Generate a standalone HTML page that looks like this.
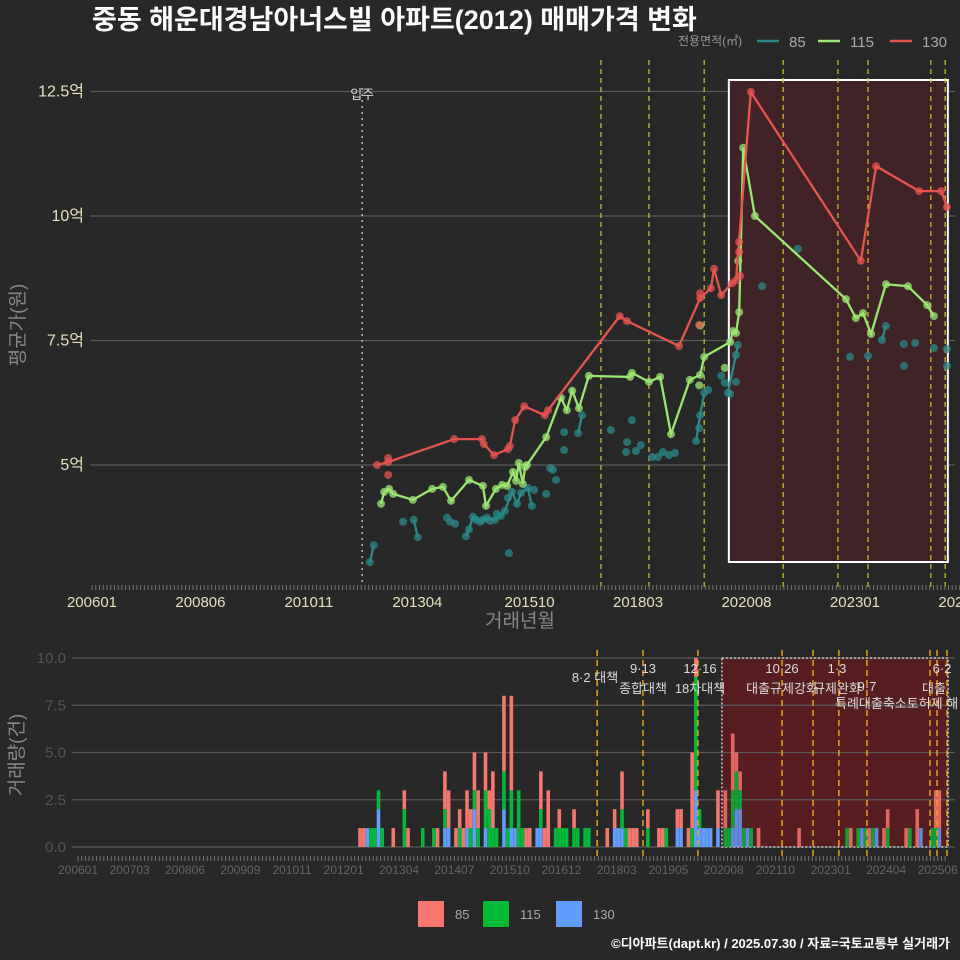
<!DOCTYPE html>
<html><head><meta charset="utf-8">
<style>
html,body{margin:0;padding:0;background:#282828;}
svg{display:block;font-family:"Liberation Sans","Noto Sans CJK KR",sans-serif;}
</style></head>
<body>
<svg id="c" width="960" height="960" viewBox="0 0 960 960"></svg>
<script>
// ---- top panel data (decimal year, price in 억) ----
const redX=[2012.35,2012.60,2014.07,2014.69,2014.73,2014.96,2015.27,2015.31,2015.43,2015.63,2016.09,2016.16,2017.76,2017.92,2019.08,2019.55,2019.79,2019.86,2020.02,2020.26,2020.35,2020.68,2023.13,2023.47,2024.43,2024.92,2025.05];
const redY=[5.00,5.06,5.52,5.52,5.42,5.20,5.32,5.38,5.90,6.18,6.00,6.10,7.99,7.89,7.39,8.35,8.55,8.94,8.41,8.65,8.71,12.49,9.10,11.00,10.50,10.50,10.18];
const redDotX=[2012.60,2012.60,2019.55,2019.53,2020.42,2020.42,2020.44];
const redDotY=[5.14,4.80,8.45,7.81,9.28,9.48,8.80];
const greenX=[2012.44,2012.51,2012.62,2012.71,2013.15,2013.58,2013.82,2014.00,2014.40,2014.71,2014.78,2015.00,2015.14,2015.25,2015.38,2015.45,2015.51,2015.60,2015.65,2015.69,2016.12,2016.45,2016.58,2016.70,2016.85,2017.07,2017.99,2018.03,2018.41,2018.66,2018.90,2019.32,2019.55,2019.64,2020.22,2020.28,2020.35,2020.42,2020.51,2020.77,2022.80,2023.02,2023.18,2023.36,2023.69,2024.18,2024.61,2024.76];
const greenY=[4.22,4.46,4.52,4.42,4.30,4.52,4.56,4.28,4.70,4.58,4.18,4.52,4.60,4.58,4.86,4.68,5.04,4.62,4.96,5.00,5.56,6.35,6.10,6.49,6.14,6.79,6.77,6.85,6.67,6.77,5.62,6.71,6.81,7.17,7.47,7.69,7.65,8.07,11.37,10.00,8.33,7.95,8.05,7.63,8.63,8.59,8.21,7.99];
const greenDotX=[2020.10,2019.53,2019.55,2020.40];
const greenDotY=[6.95,6.60,7.80,9.10];
const tealX=[2012.19,2012.28,2012.93,2013.17,2013.26,2013.91,2013.98,2014.09,2014.33,2014.40,2014.49,2014.56,2014.65,2014.71,2014.80,2014.87,2014.98,2015.02,2015.11,2015.20,2015.27,2015.29,2015.36,2015.47,2015.56,2015.71,2015.80,2015.85,2016.12,2016.21,2016.27,2016.34,2016.52,2016.52,2016.83,2016.92,2017.56,2017.90,2017.92,2018.03,2018.12,2018.23,2018.48,2018.61,2018.72,2018.86,2018.99,2019.46,2019.53,2019.55,2019.64,2019.73,2020.02,2020.10,2020.17,2020.22,2020.35,2020.35,2020.39,2020.93,2021.73,2022.89,2023.29,2023.60,2023.69,2024.09,2024.34,2024.09,2024.76,2025.05,2025.05];
const tealY=[3.05,3.39,3.86,3.90,3.55,3.94,3.86,3.82,3.57,3.71,3.96,3.90,3.86,3.90,3.94,3.88,3.90,4.02,3.98,4.08,4.34,3.23,4.46,4.22,4.44,4.54,4.18,4.50,4.42,4.94,4.90,4.70,5.66,5.30,5.64,6.00,5.70,5.26,5.46,5.90,5.28,5.40,5.16,5.16,5.26,5.20,5.24,5.48,5.74,6.00,6.45,6.51,6.79,6.65,6.45,6.43,6.67,7.21,7.41,8.59,9.34,7.17,7.19,7.51,7.79,7.43,7.45,6.99,7.35,7.33,6.99];
const tealLineX=[2012.19,2012.28,null,2013.17,2013.26,null,2014.33,2014.40,2014.49,2014.65,2014.80,2014.98,2015.11,2015.20,2015.36,2015.47,2015.56,2015.71,2015.80,null,2016.21,2016.27,null,2016.83,2016.92,null,2019.46,2019.55,2019.64,null,2020.17,2020.35,2020.39,null,2023.60,2023.69];
const tealLineY=[3.05,3.39,null,3.90,3.55,null,3.57,3.71,3.96,3.86,3.94,3.90,3.98,4.08,4.46,4.22,4.44,4.54,4.18,null,4.94,4.90,null,5.64,6.00,null,5.48,6.00,6.45,null,6.45,7.21,7.41,null,7.51,7.79];
const topEvents=[2017.34,2018.41,2019.64,2021.40,2022.62,2023.29,2024.69,2025.01];
const yTicks=[5,7.5,10,12.5];
const yTickLabels=["5억","7.5억","10억","12.5억"];
const topTickLabels=["200601","200806","201011","201304","201510","201803","202008","202301","202506"];
// ---- bottom panel data (month, counts 85/115/130) ----
const barMonths=["201205","201206","201207","201208","201209","201210","201211","201302","201305","201306","201310","201401","201402","201404","201405","201407","201408","201409","201410","201411","201412","201501","201503","201504","201505","201506","201508","201509","201510","201511","201512","201601","201602","201603","201605","201606","201607","201608","201610","201611","201612","201701","201703","201704","201706","201707","201712","201802","201803","201804","201805","201806","201807","201808","201811","201902","201903","201904","201907","201908","201910","201911","201912","202001","202002","202003","202004","202006","202008","202009","202010","202011","202012","202101","202102","202103","202105","202204","202305","202306","202308","202309","202310","202311","202312","202401","202403","202404","202409","202410","202412","202501","202504","202505","202506"];
const c85 =[1,1,0,0,0,0,0,1,1,1,0,0,1,2,2,1,1,1,2,1,2,2,2,1,3,0,4,0,5,0,0,0,1,1,0,2,1,3,0,1,0,0,1,0,0,0,1,1,0,2,0,1,1,1,1,1,1,0,1,1,1,4,1,0,0,0,0,2,2,0,3,1,1,0,0,0,1,1,0,1,0,0,0,1,0,0,1,1,1,0,2,0,0,2,2];
const c115=[0,0,0,1,1,1,1,0,2,0,1,1,0,1,0,0,1,0,0,1,1,1,2,2,1,1,2,1,2,0,3,1,0,0,0,1,0,0,1,1,1,1,1,1,1,1,0,0,0,1,1,0,0,0,1,0,0,1,0,0,0,1,6,1,0,0,0,0,1,1,2,2,1,1,0,1,0,0,1,0,1,0,1,0,1,0,0,1,0,1,0,0,1,1,0];
const c130=[0,0,1,0,0,2,0,0,0,0,0,0,0,1,1,0,0,0,1,0,2,0,1,0,0,0,2,0,1,1,0,0,0,0,1,1,0,0,0,0,0,0,0,0,0,0,0,1,1,1,0,0,0,0,0,0,0,0,1,1,0,0,3,1,1,1,1,1,0,0,1,2,2,0,1,0,0,0,0,0,0,1,0,0,0,1,0,0,0,0,0,1,0,0,1];
const botEvents=[140.7,153.1,168.0,190.8,199.2,206.2,213.8,230.9,232.8,235.5];
const botYTicks=[0,2.5,5,7.5,10];
const botTickLabels=["200601","200703","200806","200909","201011","201201","201304","201407","201510","201612","201803","201905","202008","202110","202301","202404","202506"];

const NS="http://www.w3.org/2000/svg";
const svg=document.getElementById('c');
function mk(tag,attrs,parent,text){const e=document.createElementNS(NS,tag);for(const k in attrs)e.setAttribute(k,attrs[k]);if(text!==undefined)e.textContent=text;(parent||svg).appendChild(e);return e;}
const xT=yr=>92+(yr-2006)*44.88;
const yT=v=>465-(v-5)*49.8;
const mIdx=s=>(+s.slice(0,4)-2006)*12+(+s.slice(4)-1);
const xTm=m=>92+m*3.74;
const xB=m=>78+m*3.69;
const yB=v=>847-v*18.9;

// title & legend
let t=mk('text',{x:92,y:29,fill:'#fff','font-size':27,'font-weight':'bold'},svg,'중동 해운대경남아너스빌 아파트(2012) 매매가격 변화');


let lg=mk('g',{});


mk('text',{x:678,y:45,fill:'#999','font-size':12},lg,'전용면적(㎡)');
[['85','#2a8a8a',757],['115','#9be870',818],['130','#e8534f',890]].forEach(([l,c,x])=>{
  const g=mk('g',{},lg);
  
  
  mk('line',{x1:x,y1:41,x2:x+22,y2:41,stroke:c,'stroke-width':2.5},g);
  mk('text',{x:x+32,y:47,fill:'#aaa','font-size':15},g,l);
});

// top panel
const topG=mk('g',{});


yTicks.forEach((v,i)=>{
  const l=mk('line',{x1:90,x2:955,y1:yT(v),y2:yT(v),stroke:'#5a5a5a','stroke-width':1.2},topG);
  
  
  const tx=mk('text',{x:84,y:yT(v)+5,fill:'#e6e2c0','font-size':16,'text-anchor':'end'},topG,yTickLabels[i]);
  
  
});
const rx1=xT(2020.19),rx2=xT(2025.07);
let rect=mk('rect',{x:rx1,y:80,width:rx2-rx1,height:482,fill:'#3f2327',stroke:'#fff','stroke-width':2},topG);


topEvents.forEach(e=>{const l=mk('line',{x1:xT(e),x2:xT(e),y1:60,y2:587,stroke:'#d4c72a','stroke-width':1.2,'stroke-dasharray':'5,4'},topG);
  
  });
let ml=mk('line',{x1:xT(2012.02),x2:xT(2012.02),y1:88,y2:585,stroke:'#bbb','stroke-width':1.5,'stroke-dasharray':'2,4'},topG);


let mt=mk('text',{x:xT(2012.02),y:99,fill:'#ddd','font-size':13,'text-anchor':'middle'},topG,'입주');


for(let m=0;m<=233;m++){mk('line',{x1:xTm(m),x2:xTm(m),y1:585,y2:590,stroke:'#777','stroke-width':1},topG);}
topTickLabels.forEach(s=>{const tx=mk('text',{x:xTm(mIdx(s)),y:607,fill:'#e6e2c0','font-size':15,'text-anchor':'middle'},topG,s);
  
  });
t=mk('text',{x:520,y:627,fill:'#888','font-size':19,'text-anchor':'middle'},topG,'거래년월');


t=mk('text',{x:0,y:0,fill:'#888','font-size':19,'text-anchor':'middle',transform:'translate(24,325) rotate(-90)'},topG,'평균가(원)');



function path(xs,ys){let d='',pen=false;xs.forEach((x,i)=>{if(x===null){pen=false;return;}d+=(pen?'L':'M')+xT(x).toFixed(1)+','+yT(ys[i]).toFixed(1);pen=true;});return d;}
function dots(xs,ys,col,name){xs.forEach((x,i)=>{const c=mk('circle',{cx:xT(x),cy:yT(ys[i]),r:4,fill:col,opacity:0.75},topG);
  
  });}
dots(tealX,tealY,'#2a8a8a','point-85');
let p=mk('path',{d:path(tealLineX,tealLineY),fill:'none',stroke:'#2a8a8a','stroke-width':2.3},topG);


dots(greenDotX,greenDotY,'#9be870','point-115');dots(greenX,greenY,'#9be870','point-115');
p=mk('path',{d:path(greenX,greenY),fill:'none',stroke:'#9be870','stroke-width':2.3},topG);


dots(redDotX,redDotY,'#e8534f','point-130');dots(redX,redY,'#e8534f','point-130');
p=mk('path',{d:path(redX,redY),fill:'none',stroke:'#e8534f','stroke-width':2.3},topG);



// bottom panel
const bot=mk('g',{});


const bx1=xB(174.5),bx2=xB(235.8);
let br=mk('rect',{x:bx1,y:658,width:bx2-bx1,height:189,fill:'#561e20'},bot);


botYTicks.forEach(v=>{const l=mk('line',{x1:72,x2:955,y1:yB(v),y2:yB(v),stroke:'#5a5a5a','stroke-width':1.2},bot);
  
  
  const tx=mk('text',{x:66,y:yB(v)+5,fill:'#555','font-size':15,'text-anchor':'end'},bot,v.toFixed(1));
  
  });
mk('rect',{x:bx1,y:658,width:bx2-bx1,height:189,fill:'none',stroke:'#ccc','stroke-width':1.5,'stroke-dasharray':'2,2'},bot);
barMonths.forEach((s,i)=>{const m=mIdx(s),x=xB(m)-0.2,w=3.6;let base=0;
  [[c130[i],'#619CFF','bar-130'],[c115[i],'#00BA38','bar-115'],[c85[i],'#F8766D','bar-85']].forEach(([v,c,n])=>{
    if(!v)return;const r=mk('rect',{x:x,y:yB(base+v),width:w,height:v*18.9,fill:c,opacity:m>=175?0.85:1},bot);
    
    
    base+=v;});});
botEvents.forEach(e=>{const l=mk('line',{x1:xB(e),x2:xB(e),y1:650,y2:858,stroke:'#e8a317','stroke-width':1.5,'stroke-dasharray':'6,4'},bot);
  
  });
const ann=[[595,682,'8·2 대책','middle'],[643,673,'9·13','middle'],[643,693,'종합대책','middle'],[700,673,'12·16','middle'],[700,693,'18차대책','middle'],
  [782,673,'10·26','middle'],[782,693,'대출규제강화','middle'],[837,673,'1·3','middle'],[837,693,'규제완화','middle'],[867,691,'9·7','middle'],
  [835,708,'특례대출축소토허제 해','start'],[942,673,'6·2','middle'],[922,693,'대출','start']];
ann.forEach(a=>{const tx=mk('text',{x:a[0],y:a[1],fill:'#ddd','font-size':13,'text-anchor':a[3]},bot,a[2]);
  
  });
for(let m=0;m<=235;m++){mk('line',{x1:xB(m),x2:xB(m),y1:856,y2:861,stroke:'#777','stroke-width':1},bot);}
botTickLabels.forEach(s=>{const tx=mk('text',{x:xB(mIdx(s)),y:874,fill:'#666','font-size':12,'text-anchor':'middle'},bot,s);
  
  });
t=mk('text',{x:0,y:0,fill:'#888','font-size':19,'text-anchor':'middle',transform:'translate(23,755) rotate(-90)'},bot,'거래량(건)');


const bl=mk('g',{});


[['85','#F8766D',418],['115','#00BA38',483],['130','#619CFF',556]].forEach(([l,c,x])=>{
  const g=mk('g',{},bl);
  
  
  mk('rect',{x:x,y:901,width:26,height:26,fill:c},g);
  mk('text',{x:x+37,y:919,fill:'#aaa','font-size':13},g,l);});
t=mk('text',{x:950,y:948,fill:'#fff','font-size':13,'font-weight':'bold','text-anchor':'end'},svg,'©디아파트(dapt.kr) / 2025.07.30 / 자료=국토교통부 실거래가');


</script>
</body></html>
